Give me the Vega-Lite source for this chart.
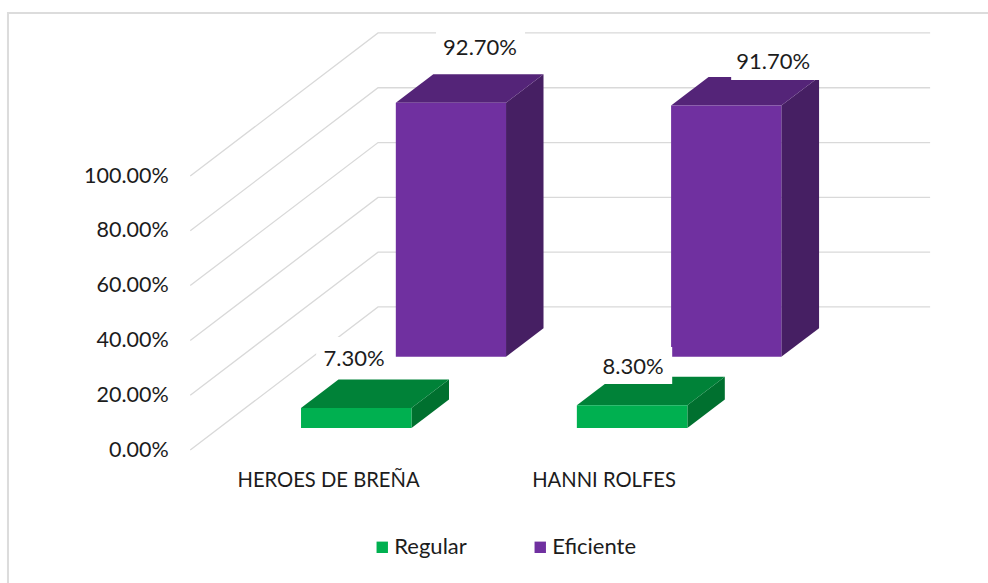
{"$schema":"https://vega.github.io/schema/vega-lite/v6.json","width":744,"height":438.4,"autosize":{"type":"none"},"padding":{"left":190.25,"right":53.75,"top":25.3,"bottom":119.3},"background":"white","config":{"view":{"stroke":null},"text":{"font":"Lato"}},
"datasets":{
"bars":[
{"school":"HEROES DE BREÑA","serie":"Regular","value":0.073,"left":0.902,"right":1.303},
{"school":"HANNI ROLFES","serie":"Regular","value":0.083,"left":1.903,"right":2.304},
{"school":"HEROES DE BREÑA","serie":"Eficiente","value":0.927,"left":1.246,"right":1.646},
{"school":"HANNI ROLFES","serie":"Eficiente","value":0.917,"left":2.245,"right":2.645}],
"labels":[
{"value":0.927,"at":1.5517,"level":1.467,"x0":1.392,"x1":1.715,"y0":1.395,"y1":1.533},
{"value":0.917,"at":2.6152,"level":1.416,"x0":2.463,"x1":2.79,"y0":1.35,"y1":1.474},
{"value":0.073,"at":1.0944,"level":0.332,"x0":0.957,"x1":1.233,"y0":0.263,"y1":0.412},
{"value":0.083,"at":2.107,"level":0.303,"x0":1.977,"x1":2.249,"y0":0.241,"y1":0.376}],
"walls":[
{"tick":"0","pos":0.5,"level":0},{"tick":"0","pos":1.1815,"level":0.522},{"tick":"0","pos":3.185,"level":0.522},
{"tick":"20","pos":0.5,"level":0.2},{"tick":"20","pos":1.1815,"level":0.722},{"tick":"20","pos":3.185,"level":0.722},
{"tick":"40","pos":0.5,"level":0.4},{"tick":"40","pos":1.1815,"level":0.922},{"tick":"40","pos":3.185,"level":0.922},
{"tick":"60","pos":0.5,"level":0.6},{"tick":"60","pos":1.1815,"level":1.122},{"tick":"60","pos":3.185,"level":1.122},
{"tick":"80","pos":0.5,"level":0.8},{"tick":"80","pos":1.1815,"level":1.322},{"tick":"80","pos":3.185,"level":1.322},
{"tick":"100","pos":0.5,"level":1},{"tick":"100","pos":1.1815,"level":1.522},{"tick":"100","pos":3.185,"level":1.522}],
"frame":[{"pos":-0.1615,"level":-0.485},{"pos":-0.1615,"level":1.595},{"pos":3.396,"level":1.595}],
"faces":[
{"bar":"R1","serie":"Regular","face":"side","pos":1.303,"low":0.08,"high":0.153},
{"bar":"R1","serie":"Regular","face":"side","pos":1.439,"low":0.184,"high":0.257},
{"bar":"R2","serie":"Regular","face":"side","pos":2.304,"low":0.08,"high":0.163},
{"bar":"R2","serie":"Regular","face":"side","pos":2.44,"low":0.184,"high":0.267},
{"bar":"E1","serie":"Eficiente","face":"side","pos":1.646,"low":0.34,"high":1.267},
{"bar":"E1","serie":"Eficiente","face":"side","pos":1.782,"low":0.444,"high":1.371},
{"bar":"E2","serie":"Eficiente","face":"side","pos":2.645,"low":0.34,"high":1.257},
{"bar":"E2","serie":"Eficiente","face":"side","pos":2.782,"low":0.444,"high":1.361},
{"bar":"R1","serie":"Regular","face":"top","pos":0.902,"low":0.153,"high":0.153},
{"bar":"R1","serie":"Regular","face":"top","pos":1.038,"low":0.153,"high":0.257},
{"bar":"R1","serie":"Regular","face":"top","pos":1.303,"low":0.153,"high":0.257},
{"bar":"R1","serie":"Regular","face":"top","pos":1.439,"low":0.257,"high":0.257},
{"bar":"R2","serie":"Regular","face":"top","pos":1.903,"low":0.163,"high":0.163},
{"bar":"R2","serie":"Regular","face":"top","pos":2.039,"low":0.163,"high":0.267},
{"bar":"R2","serie":"Regular","face":"top","pos":2.304,"low":0.163,"high":0.267},
{"bar":"R2","serie":"Regular","face":"top","pos":2.44,"low":0.267,"high":0.267},
{"bar":"E1","serie":"Eficiente","face":"top","pos":1.246,"low":1.267,"high":1.267},
{"bar":"E1","serie":"Eficiente","face":"top","pos":1.382,"low":1.267,"high":1.371},
{"bar":"E1","serie":"Eficiente","face":"top","pos":1.646,"low":1.267,"high":1.371},
{"bar":"E1","serie":"Eficiente","face":"top","pos":1.782,"low":1.371,"high":1.371},
{"bar":"E2","serie":"Eficiente","face":"top","pos":2.245,"low":1.257,"high":1.257},
{"bar":"E2","serie":"Eficiente","face":"top","pos":2.381,"low":1.257,"high":1.361},
{"bar":"E2","serie":"Eficiente","face":"top","pos":2.645,"low":1.257,"high":1.361},
{"bar":"E2","serie":"Eficiente","face":"top","pos":2.782,"low":1.361,"high":1.361}]
},
"layer":[
{"data":{"name":"frame"},"mark":{"type":"line","stroke":"#dcdcdc","strokeWidth":2},"encoding":{"x":{"field":"pos","type":"quantitative","sort":null,"scale":{"domain":[0.5,3.2],"nice":false,"zero":false},"axis":{"values":[1,2],"title":null,"domain":false,"ticks":false,"grid":false,"labelPadding":7,"labelLimit":400,"labelFont":"Lato","labelFontSize":20.2,"labelColor":"#1c1c1c","labelExpr":"datum.value==1?'HEROES DE BREÑA':'HANNI ROLFES'"}},"y":{"field":"level","type":"quantitative","sort":null,"scale":{"domain":[-0.05,1.55],"nice":false,"zero":false},"axis":{"values":[0,0.2,0.4,0.6,0.8,1],"format":".2%","title":null,"domain":false,"ticks":false,"grid":false,"labelPadding":22,"labelFont":"Lato","labelFontSize":21.5,"labelColor":"#1c1c1c"}},"order":{"field":"level"}}},
{"data":{"name":"walls"},"mark":{"type":"line","stroke":"#d9d9d9","strokeWidth":1.3},"encoding":{"x":{"field":"pos","type":"quantitative"},"y":{"field":"level","type":"quantitative"},"detail":{"field":"tick"}}},
{"data":{"name":"labels"},"mark":{"type":"rect","fill":"white"},"encoding":{"x":{"field":"x0","type":"quantitative"},"x2":{"field":"x1"},"y":{"field":"y0","type":"quantitative"},"y2":{"field":"y1"}},"transform":[{"filter":"datum.value==0.073"}]},
{"data":{"name":"faces"},"transform":[{"filter":"datum.face==='side'"}],"mark":{"type":"area"},"encoding":{"x":{"field":"pos","type":"quantitative"},"y":{"field":"high","type":"quantitative"},"y2":{"field":"low"},"detail":{"field":"bar"},"fill":{"condition":{"test":"datum.serie==='Regular'","value":"#00702F"},"value":"#461F63"}}},
{"data":{"name":"faces"},"transform":[{"filter":"datum.face==='top'"}],"mark":{"type":"area"},"encoding":{"x":{"field":"pos","type":"quantitative"},"y":{"field":"high","type":"quantitative"},"y2":{"field":"low"},"detail":{"field":"bar"},"fill":{"condition":{"test":"datum.serie==='Regular'","value":"#008238"},"value":"#542478"}}},
{"data":{"name":"bars"},"transform":[{"filter":"datum.serie==='Regular'"}],"mark":{"type":"rect","yOffset":-21.9,"y2Offset":-21.9},"encoding":{"x":{"field":"left","type":"quantitative"},"x2":{"field":"right"},"y":{"field":"value","type":"quantitative"},"y2":{"datum":0},"color":{"field":"serie","type":"nominal","scale":{"domain":["Regular","Eficiente"],"range":["#00B050","#7030A0"]},"legend":{"orient":"none","legendX":181,"legendY":511,"direction":"horizontal","title":null,"symbolType":"square","symbolSize":130,"symbolStrokeWidth":0,"labelFont":"Lato","labelFontSize":22,"labelColor":"#1c1c1c","columnPadding":62,"labelOffset":1,"symbolOpacity":1}}}},
{"data":{"name":"bars"},"transform":[{"filter":"datum.serie==='Eficiente'"}],"mark":{"type":"rect","yOffset":-93.2,"y2Offset":-93.2},"encoding":{"x":{"field":"left","type":"quantitative"},"x2":{"field":"right"},"y":{"field":"value","type":"quantitative"},"y2":{"datum":0},"color":{"field":"serie","type":"nominal"}}},
{"data":{"name":"labels"},"transform":[{"filter":"datum.value!=0.073"}],"mark":{"type":"rect","fill":"white"},"encoding":{"x":{"field":"x0","type":"quantitative"},"x2":{"field":"x1"},"y":{"field":"y0","type":"quantitative"},"y2":{"field":"y1"}}},
{"data":{"name":"labels"},"mark":{"type":"text","font":"Lato","fontSize":22,"fill":"#1c1c1c","align":"center","baseline":"middle"},"encoding":{"x":{"field":"at","type":"quantitative"},"y":{"field":"level","type":"quantitative"},"text":{"field":"value","type":"quantitative","format":".2%"}}}
]}
